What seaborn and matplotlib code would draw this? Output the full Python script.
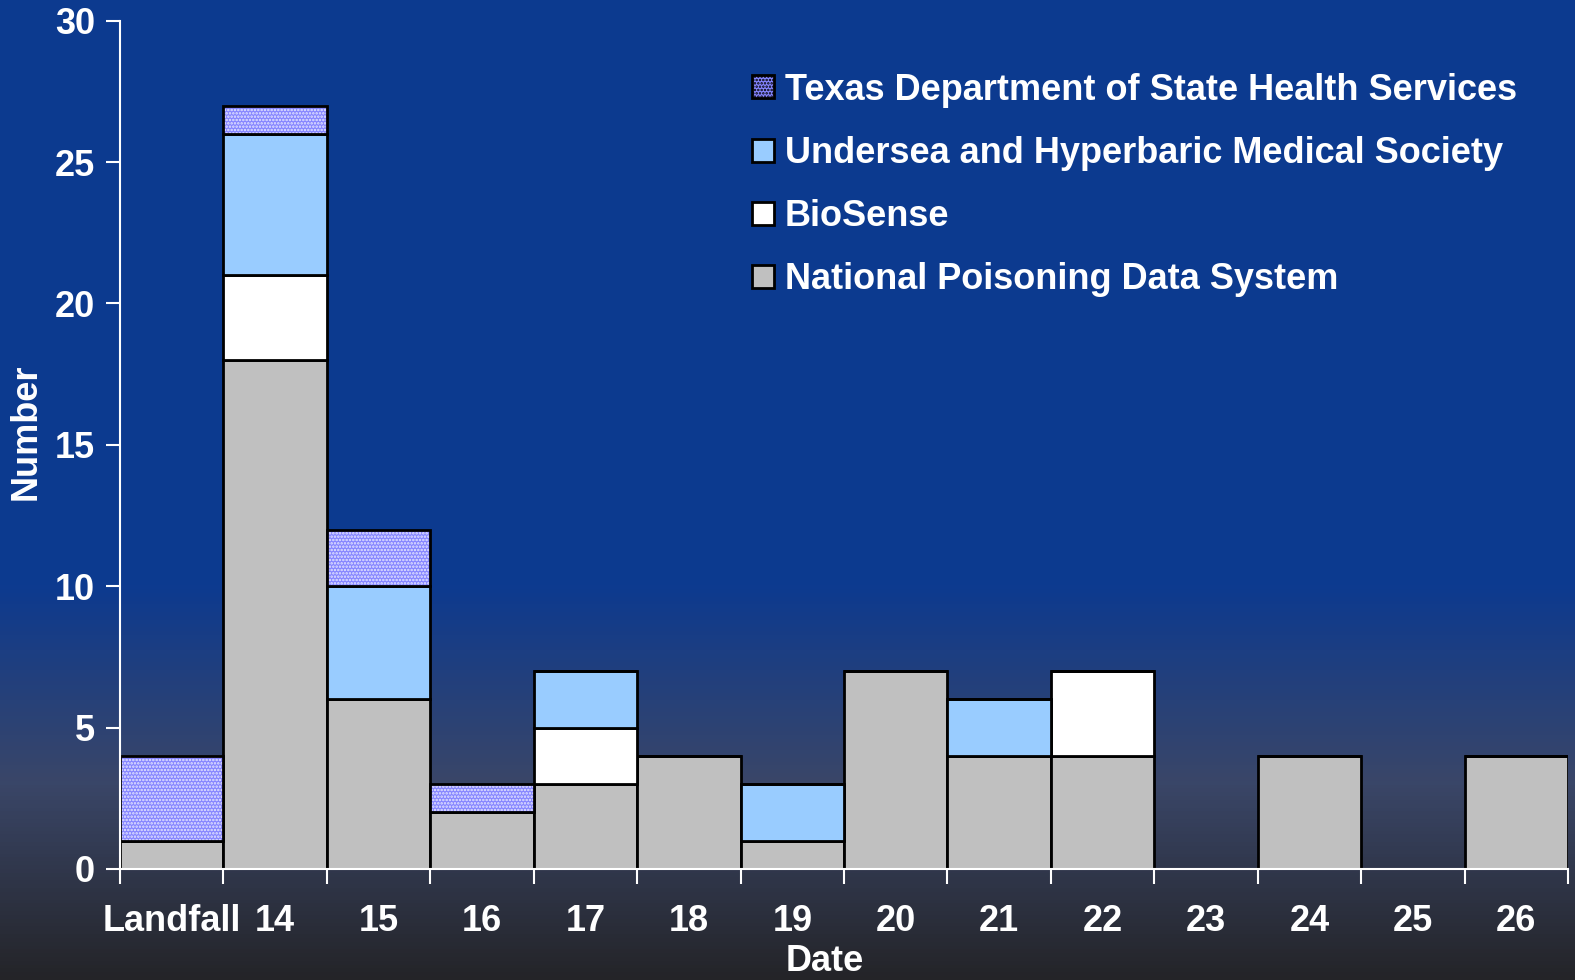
import numpy as np
import pandas as pd
import seaborn as sns
import matplotlib.pyplot as plt
from matplotlib.colors import LinearSegmentedColormap
from matplotlib.patches import Patch

# ── Data ──────────────────────────────────────────────────────────────────────
dates = ["Landfall", "14", "15", "16", "17", "18", "19", "20",
         "21", "22", "23", "24", "25", "26"]
npds     = [1, 18, 6, 2, 3, 4, 1, 7, 4, 4, 0, 4, 0, 4]
biosense = [0, 3, 0, 0, 2, 0, 0, 0, 0, 3, 0, 0, 0, 0]
uhms     = [0, 5, 4, 0, 2, 0, 2, 0, 2, 0, 0, 0, 0, 0]
texas    = [3, 1, 2, 1, 0, 0, 0, 0, 0, 0, 0, 0, 0, 0]
y_ticks  = [0, 5, 10, 15, 20, 25, 30]

series = [
    ("National Poisoning Data System", npds, "#c0c0c0"),
    ("BioSense", biosense, "#ffffff"),
    ("Undersea and Hyperbaric Medical Society", uhms, "#99ccff"),
    ("Texas Department of State Health Services", texas, "#8585ff"),
]

df = pd.DataFrame({"date": dates, "npds": npds, "biosense": biosense,
                   "uhms": uhms, "texas": texas})

sns.set_style("white")
plt.rcParams["font.family"] = ["Liberation Sans", "DejaVu Sans"]
plt.rcParams["font.weight"] = "bold"
plt.rcParams["hatch.linewidth"] = 1.2

FS = 26

fig = plt.figure(figsize=(15.75, 9.8), dpi=100)

# ── Background gradient ──────────────────────────────────────────────────────
bg = fig.add_axes([0, 0, 1, 1], zorder=-1)
cmap = LinearSegmentedColormap.from_list(
    "bg", [(0.0, "#0c3a8f"), (0.6, "#0d3a8f"), (0.8, "#3a4668"), (1.0, "#242428")])
bg.imshow(np.linspace(0, 1, 256)[:, None], aspect="auto", cmap=cmap,
          extent=[0, 1, 0, 1])
bg.axis("off")

ax = fig.add_axes([0.0762, 0.1133, 0.9194, 0.8656])
ax.set_facecolor("none")

bottom = np.zeros(len(dates))
for name, vals, color in series:
    vals = np.array(vals, dtype=float)
    if name.startswith("Texas"):
        # hatched fill first, then the black outline on top
        sns.barplot(x=df["date"], y=vals, bottom=bottom, width=1, ax=ax,
                    color=color, saturation=1, hatch=".....", edgecolor="#e8e8ff",
                    linewidth=0)
        sns.barplot(x=df["date"], y=vals, bottom=bottom, width=1, ax=ax,
                    color="black", fill=False, linewidth=2, saturation=1)
    else:
        sns.barplot(x=df["date"], y=vals, bottom=bottom, width=1, ax=ax,
                    color=color, saturation=1, edgecolor="black", linewidth=2)
    bottom += vals

# ── Axes styling ─────────────────────────────────────────────────────────────
ax.set_xlim(-0.5, len(dates) - 0.5)
ax.set_ylim(0, 30)
ax.set_yticks(y_ticks)
ax.set_xticks(np.arange(len(dates) + 1) - 0.5)
ax.set_xticklabels([])
ax.set_xticks(np.arange(len(dates)), minor=True)
ax.set_xticklabels(dates, minor=True)
ax.tick_params(axis="x", which="major", bottom=True, length=11, width=1.5,
               colors="white", direction="out")
ax.tick_params(axis="x", which="minor", bottom=True, length=0, pad=25,
               labelsize=FS, labelcolor="white")
ax.tick_params(axis="y", left=True, length=10, width=1.5, colors="white",
               labelsize=FS, pad=8)
for s in ["top", "right"]:
    ax.spines[s].set_visible(False)
for s in ["left", "bottom"]:
    ax.spines[s].set_color("white")
    ax.spines[s].set_linewidth(1.5)
ax.set_xlabel("Date", color="white", fontsize=FS, fontweight="bold")
ax.xaxis.set_label_coords(0.487, -0.088)
ax.set_ylabel("Number", color="white", fontsize=FS, fontweight="bold")
ax.yaxis.set_label_coords(-0.0645, 0.515)
ax.yaxis.label.set_va("center")
ax.xaxis.label.set_va("top")

handles = [Patch(facecolor=c, edgecolor="black", linewidth=2,
                 hatch="....." if n.startswith("Texas") else None, label=n)
           for n, _, c in series[::-1]]
leg = ax.legend(handles=handles, loc="upper left", bbox_to_anchor=(0.414, 0.977),
                frameon=False, fontsize=FS, labelcolor="white",
                handlelength=0.6, handleheight=0.6, handletextpad=0.3,
                labelspacing=0.78)

fig.savefig("out.png", dpi=100)
